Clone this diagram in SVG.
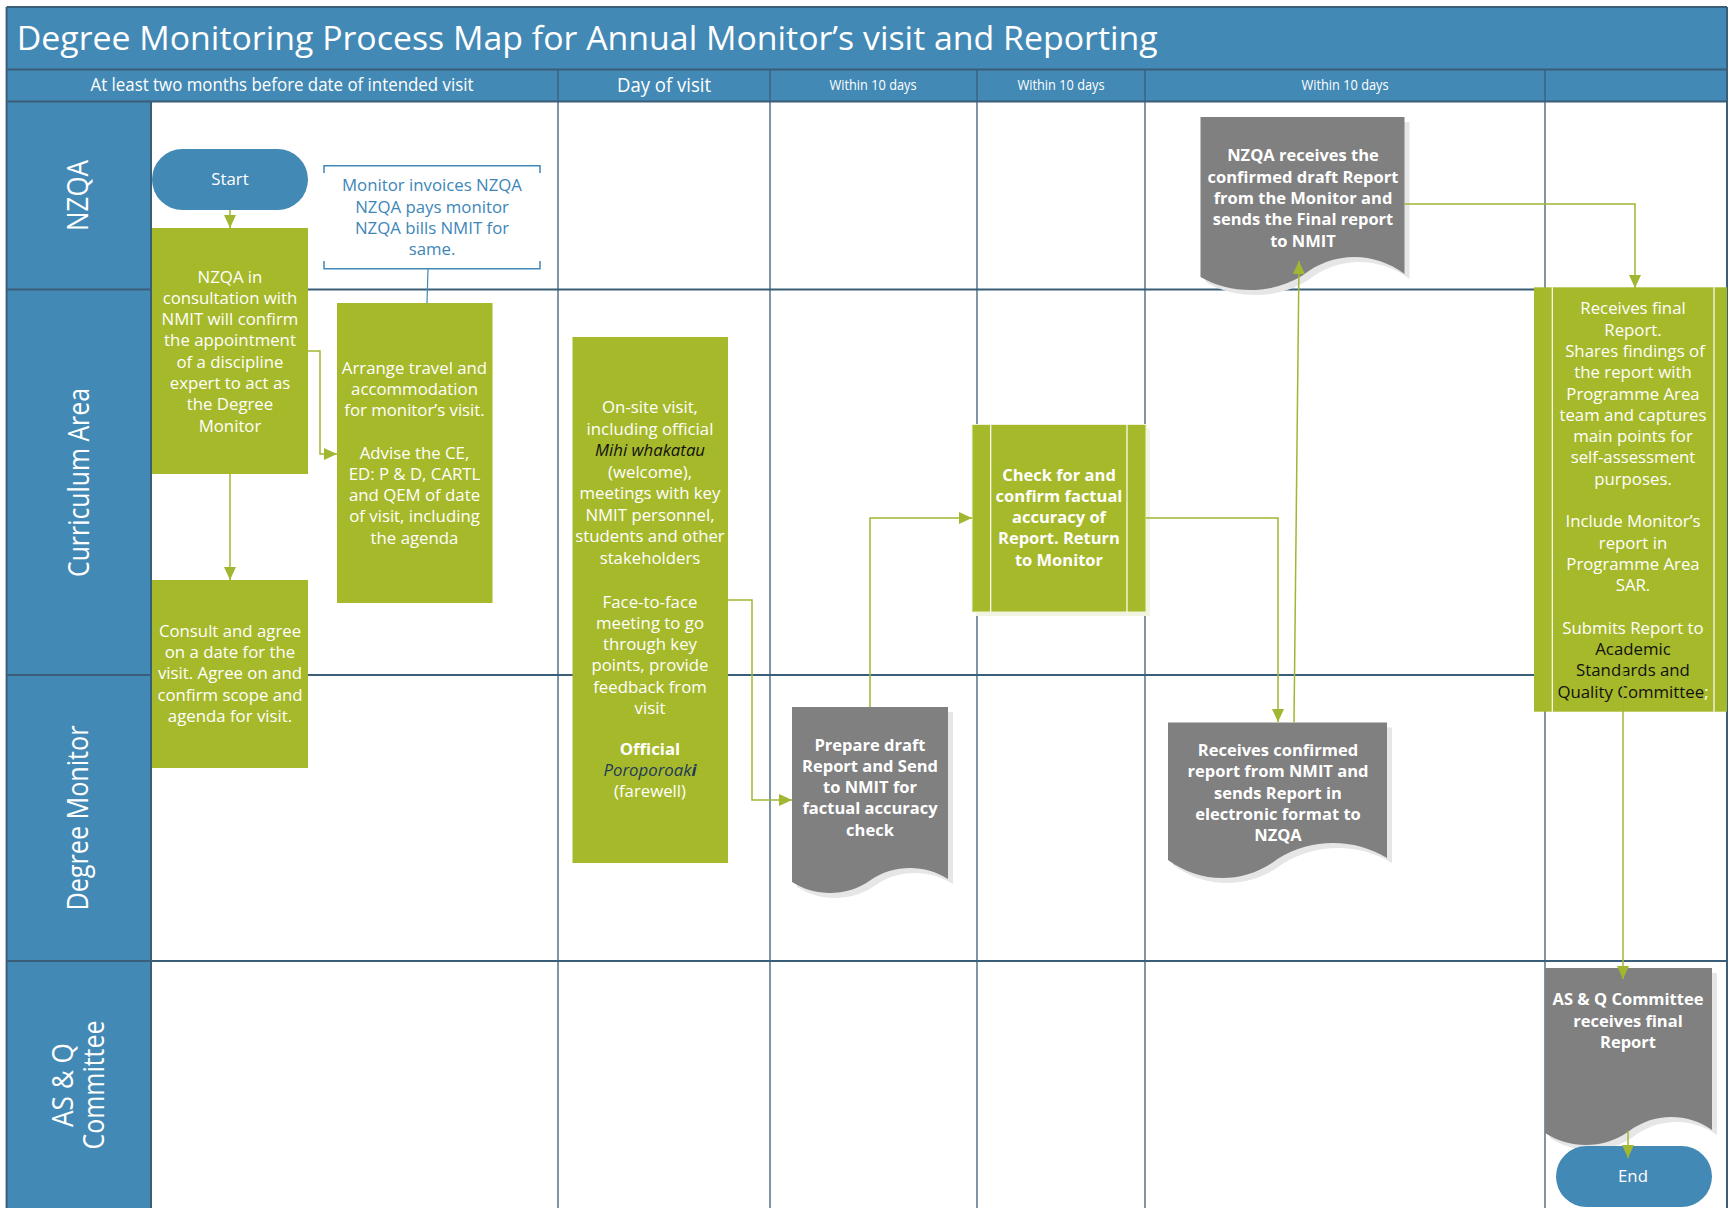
<svg xmlns="http://www.w3.org/2000/svg" width="1729" height="1208" viewBox="0 0 1729 1208">
<defs>
<style>
.f{font-family:"Open Sans","Noto Sans","DejaVu Sans",sans-serif}
.w{fill:#fff}
.t{font-family:"Open Sans","Noto Sans","DejaVu Sans",sans-serif;font-size:16.8px;fill:#fff;text-anchor:middle}
.bt{font-family:"Open Sans","Noto Sans","DejaVu Sans",sans-serif;font-size:16.5px;font-weight:700;fill:#fff;text-anchor:middle}
.lane{font-family:"Open Sans","Noto Sans","DejaVu Sans",sans-serif;font-size:30px;fill:#fff;text-anchor:middle}
.hd{font-family:"Open Sans","Noto Sans","DejaVu Sans",sans-serif;fill:#fff;text-anchor:middle}
.band{fill:#4389B5}
.gl{stroke:#3A5E78;stroke-width:2;fill:none}
.gv{stroke:#3A5E78;stroke-width:1.3;fill:none}
.green{fill:#A6B92A}
.doc{fill:#808080}
.shadow{fill:#e6e6e6}
.conn{fill:none;stroke:#A3B632;stroke-width:1.5}
.blk{fill:#111}
</style>
<marker id="ah" markerUnits="userSpaceOnUse" markerWidth="13" markerHeight="12" refX="13" refY="6" orient="auto">
<path d="M0,0 L13,6 L0,12 Z" fill="#A3B632"/>
</marker>
</defs>
<rect x="0" y="0" width="1729" height="1208" fill="#fff"/>
<g id="frame">
<rect class="band" x="6.6" y="7" width="1720.4" height="94.5"/>
<rect class="band" x="6.6" y="101.5" width="144.4" height="1106.5"/>
<path class="gl" d="M6.6,7 H1727 M6.6,69.5 H1727 M6.6,101.5 H1727 M6.6,289.5 H1727 M6.6,675 H1727 M6.6,961 H1727 M6.6,7 V1208 M1727,7 V1208 M151,101.5 V1208"/>
<path class="gv" d="M558,69.5 V1208 M770,69.5 V1208 M977,69.5 V1208 M1145,69.5 V1208 M1545,69.5 V1208"/>
<text class="f w" x="16.7" y="50" font-size="33.6" textLength="1141" lengthAdjust="spacingAndGlyphs">Degree Monitoring Process Map for Annual Monitor’s visit and Reporting</text>
<text class="hd" x="282" y="91" font-size="17.5" textLength="383" lengthAdjust="spacingAndGlyphs">At least two months before date of intended visit</text>
<text class="hd" x="664" y="91.5" font-size="20" textLength="94" lengthAdjust="spacingAndGlyphs">Day of visit</text>
<text class="hd" x="873" y="90" font-size="14" textLength="87" lengthAdjust="spacingAndGlyphs">Within 10 days</text>
<text class="hd" x="1061" y="90" font-size="14" textLength="87" lengthAdjust="spacingAndGlyphs">Within 10 days</text>
<text class="hd" x="1345" y="90" font-size="14" textLength="87" lengthAdjust="spacingAndGlyphs">Within 10 days</text>
</g>
<g id="lane-nzqa"><text class="lane" transform="translate(88,195.5) rotate(-90)" textLength="71" lengthAdjust="spacingAndGlyphs">NZQA</text></g>
<g id="lane-curriculum"><text class="lane" transform="translate(89,482.5) rotate(-90)" textLength="189" lengthAdjust="spacingAndGlyphs">Curriculum Area</text></g>
<g id="lane-monitor"><text class="lane" transform="translate(88,818) rotate(-90)" textLength="185" lengthAdjust="spacingAndGlyphs">Degree Monitor</text></g>
<g id="lane-asq">
<text class="lane" transform="translate(73,1085) rotate(-90)" textLength="84" lengthAdjust="spacingAndGlyphs">AS &amp; Q</text>
<text class="lane" transform="translate(104,1085) rotate(-90)" textLength="129" lengthAdjust="spacingAndGlyphs">Committee</text>
</g>

<g id="start">
<rect x="152" y="149" width="156" height="61" rx="30.5" fill="#4389B5"/>
<text class="t" x="230" y="185">Start</text>
</g>

<g id="nzqa-consult">
<rect class="green" x="152" y="228" width="156" height="246"/>
<text class="t" x="230" y="282.5">NZQA in</text>
<text class="t" x="230" y="303.8">consultation with</text>
<text class="t" x="230" y="325.1">NMIT will confirm</text>
<text class="t" x="230" y="346.4">the appointment</text>
<text class="t" x="230" y="367.7">of a discipline</text>
<text class="t" x="230" y="389">expert to act as</text>
<text class="t" x="230" y="410.3">the Degree</text>
<text class="t" x="230" y="431.6">Monitor</text>
</g>

<g id="invoice-note">
<path d="M324,173 V165.7 H540 V173 M324,261 V268.7 H540 V261" fill="none" stroke="#4389B5" stroke-width="1.5"/>
<text class="t" x="432" y="191.3" style="fill:#3D86B8">Monitor invoices NZQA</text>
<text class="t" x="432" y="212.6" style="fill:#3D86B8">NZQA pays monitor</text>
<text class="t" x="432" y="233.9" style="fill:#3D86B8">NZQA bills NMIT for</text>
<text class="t" x="432" y="255.2" style="fill:#3D86B8">same.</text>
</g>

<g id="arrange-travel">
<rect class="green" x="337" y="303" width="155.5" height="300"/>
<text class="t" x="414.5" y="374">Arrange travel and</text>
<text class="t" x="414.5" y="395.2">accommodation</text>
<text class="t" x="414.5" y="416.4">for monitor’s visit.</text>
<text class="t" x="414.5" y="458.8">Advise the CE,</text>
<text class="t" x="414.5" y="480">ED: P &amp; D, CARTL</text>
<text class="t" x="414.5" y="501.2">and QEM of date</text>
<text class="t" x="414.5" y="522.4">of visit, including</text>
<text class="t" x="414.5" y="543.6">the agenda</text>
</g>

<g id="consult-agree">
<rect class="green" x="152" y="580" width="156" height="188"/>
<text class="t" x="230" y="637">Consult and agree</text>
<text class="t" x="230" y="658.2">on a date for the</text>
<text class="t" x="230" y="679.4">visit. Agree on and</text>
<text class="t" x="230" y="700.6">confirm scope and</text>
<text class="t" x="230" y="721.8">agenda for visit.</text>
</g>

<g id="onsite-visit">
<rect class="green" x="572.5" y="337" width="155.5" height="526"/>
<text class="t" x="650" y="413.3">On-site visit,</text>
<text class="t" x="650" y="434.5">including official</text>
<text class="t blk" x="650" y="456" font-style="italic" style="fill:#111">Mihi whakatau</text>
<text class="t" x="650" y="477.5">(welcome),</text>
<text class="t" x="650" y="499">meetings with key</text>
<text class="t" x="650" y="520.5">NMIT personnel,</text>
<text class="t" x="650" y="542">students and other</text>
<text class="t" x="650" y="563.5">stakeholders</text>
<text class="t" x="650" y="607.7">Face-to-face</text>
<text class="t" x="650" y="628.9">meeting to go</text>
<text class="t" x="650" y="650">through key</text>
<text class="t" x="650" y="671.3">points, provide</text>
<text class="t" x="650" y="692.5">feedback from</text>
<text class="t" x="650" y="713.7">visit</text>
<text class="t" x="650" y="755" font-weight="700">Official</text>
<text class="t" x="650" y="776.2" font-style="italic" style="fill:#1F3A5A">Poroporoak<tspan font-weight="700">i</tspan></text>
<text class="t" x="650" y="797.4">(farewell)</text>
</g>

<g id="prepare-draft">
<path class="shadow" transform="translate(5,5)" d="M792,707 H948 V879 C924.6,864.1 893.4,864.1 870,880.5 C846.6,896.9 815.4,896.9 792,882 Z"/>
<path class="doc" d="M792,707 H948 V879 C924.6,864.1 893.4,864.1 870,880.5 C846.6,896.9 815.4,896.9 792,882 Z"/>
<text class="bt" x="870" y="750.5">Prepare draft</text>
<text class="bt" x="870" y="771.8">Report and Send</text>
<text class="bt" x="870" y="793.1">to NMIT for</text>
<text class="bt" x="870" y="814.4">factual accuracy</text>
<text class="bt" x="870" y="835.7">check</text>
</g>

<g id="check-accuracy">
<rect x="976" y="428.5" width="174" height="187.5" fill="#f1f4e2"/>
<rect class="green" x="972" y="424.5" width="174" height="187.5" stroke="#eef3d6" stroke-width="1"/>
<path d="M990.7,424.5 V612 M1127,424.5 V612" stroke="#fff" stroke-width="1.2"/>
<text class="bt" x="1059" y="480.5">Check for and</text>
<text class="bt" x="1059" y="501.8">confirm factual</text>
<text class="bt" x="1059" y="523.1">accuracy of</text>
<text class="bt" x="1059" y="544.4">Report. Return</text>
<text class="bt" x="1059" y="565.7">to Monitor</text>
</g>

<g id="receives-confirmed">
<path class="shadow" transform="translate(5,5)" d="M1168,722.5 H1387 V858 C1354.2,837.8 1310.4,837.8 1277.5,859 C1244.7,884.2 1200.9,884.2 1168,860 Z"/>
<path class="doc" d="M1168,722.5 H1387 V858 C1354.2,837.8 1310.4,837.8 1277.5,859 C1244.7,884.2 1200.9,884.2 1168,860 Z"/>
<text class="bt" x="1278" y="756">Receives confirmed</text>
<text class="bt" x="1278" y="777.3">report from NMIT and</text>
<text class="bt" x="1278" y="798.6">sends Report in</text>
<text class="bt" x="1278" y="819.9">electronic format to</text>
<text class="bt" x="1278" y="841.2">NZQA</text>
</g>

<g id="nzqa-receives">
<path class="shadow" transform="translate(5,5)" d="M1200.5,117 H1404.5 V274 C1373.9,251.1 1333.1,251.1 1302.5,275.5 C1271.9,294.6 1231.1,294.6 1200.5,277 Z"/>
<path class="doc" d="M1200.5,117 H1404.5 V274 C1373.9,251.1 1333.1,251.1 1302.5,275.5 C1271.9,294.6 1231.1,294.6 1200.5,277 Z"/>
<text class="bt" x="1303" y="161.3">NZQA receives the</text>
<text class="bt" x="1303" y="182.6">confirmed draft Report</text>
<text class="bt" x="1303" y="203.9">from the Monitor and</text>
<text class="bt" x="1303" y="225.2">sends the Final report</text>
<text class="bt" x="1303" y="246.5">to NMIT</text>
</g>

<g id="receives-final">
<rect class="green" x="1534" y="287.3" width="193" height="424.4"/>
<path d="M1552.3,287.3 V711.7 M1714,287.3 V711.7" stroke="#fff" stroke-width="1.2"/>
<text class="t" x="1633" y="314.3">Receives final</text>
<text class="t" x="1633" y="335.6">Report.</text>
<text class="t" x="1635" y="356.9">Shares findings of</text>
<text class="t" x="1633" y="378.2">the report with</text>
<text class="t" x="1633" y="399.5">Programme Area</text>
<text class="t" x="1633" y="420.8">team and captures</text>
<text class="t" x="1633" y="442.1">main points for</text>
<text class="t" x="1633" y="463.4">self-assessment</text>
<text class="t" x="1633" y="484.7">purposes.</text>
<text class="t" x="1633" y="527.3">Include Monitor’s</text>
<text class="t" x="1633" y="548.6">report in</text>
<text class="t" x="1633" y="569.9">Programme Area</text>
<text class="t" x="1633" y="591.2">SAR.</text>
<text class="t" x="1633" y="633.8">Submits Report to</text>
<text class="t" x="1633" y="655.1" style="fill:#111">Academic</text>
<text class="t" x="1633" y="676.4" style="fill:#111">Standards and</text>
<text class="t" x="1633" y="697.7"><tspan style="fill:#111">Quality Committee</tspan>;</text>
</g>

<g id="asq-receives">
<path class="shadow" transform="translate(5,5)" d="M1545,968 H1712 V1130 C1687,1112.4 1653.6,1112.4 1628.5,1131.5 C1603.5,1149.3 1570,1149.3 1545,1133 Z"/>
<path class="doc" d="M1545,968 H1712 V1130 C1687,1112.4 1653.6,1112.4 1628.5,1131.5 C1603.5,1149.3 1570,1149.3 1545,1133 Z"/>
<text class="bt" x="1628" y="1005.3">AS &amp; Q Committee</text>
<text class="bt" x="1628" y="1026.6">receives final</text>
<text class="bt" x="1628" y="1047.9">Report</text>
</g>

<g id="end">
<rect x="1556" y="1146" width="156" height="61" rx="30.5" fill="#4389B5"/>
<text class="t" x="1633" y="1182">End</text>
</g>

<g id="connectors">
<path d="M428,268.7 L427,303" fill="none" stroke="#4389B5" stroke-width="1.2"/>
<path class="conn" marker-end="url(#ah)" d="M230,210 V228"/>
<path class="conn" marker-end="url(#ah)" d="M308,351 H320 V454 H337"/>
<path class="conn" marker-end="url(#ah)" d="M230,474 V580"/>
<path class="conn" marker-end="url(#ah)" d="M728,600 H752 V800 H792"/>
<path class="conn" marker-end="url(#ah)" d="M870,707 V518 H972"/>
<path class="conn" marker-end="url(#ah)" d="M1146,518 H1278 V722"/>
<path class="conn" marker-end="url(#ah)" d="M1294,722.5 L1299,261"/>
<path class="conn" marker-end="url(#ah)" d="M1404.5,204 H1635 V288"/>
<path class="conn" marker-end="url(#ah)" d="M1623,672 V979"/>
<path class="conn" marker-end="url(#ah)" d="M1628,1131 V1158"/>
</g>
</svg>
